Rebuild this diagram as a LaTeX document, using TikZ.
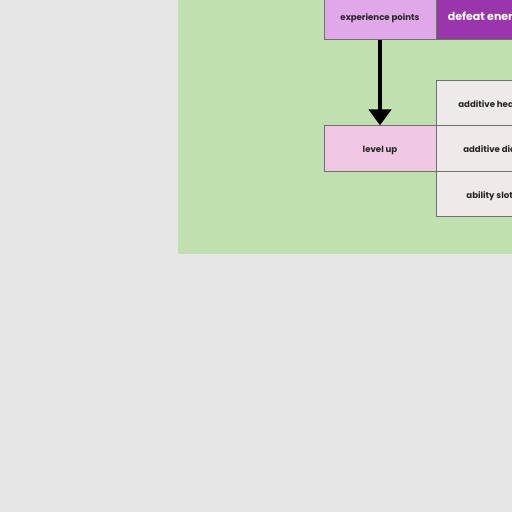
\documentclass[tikz,border=0pt]{standalone}
\usepackage{fontspec}
\setmainfont{Poppins}
\usetikzlibrary{arrows.meta}
\definecolor{pagebg}{HTML}{E6E6E6}
\definecolor{zone}{HTML}{C0E0B0}
\definecolor{xpfill}{HTML}{E0A8E8}
\definecolor{defeatfill}{HTML}{9B35AC}
\definecolor{lvlfill}{HTML}{F0C8E4}
\definecolor{perkfill}{HTML}{EEEAEA}
\definecolor{edge}{HTML}{707070}
\begin{document}
\begin{tikzpicture}[x=1pt,y=-1pt,
  cell/.style={draw=edge,line width=0.7pt,minimum width=112pt,minimum height=45.5pt,
    inner sep=0pt,text height=0.8em,text depth=0pt,
    font=\fontsize{8.6}{10}\selectfont\bfseries,text=black!85},
  bigcell/.style={cell,text height=0.85em,font=\fontsize{11}{13}\selectfont\bfseries,text=white},
  flow/.style={line width=4.5pt,-{Triangle[width=22pt,length=16pt]}}]
  \useasboundingbox (0,0) rectangle (512,512);
  \clip (0,0) rectangle (512,512);
  \fill[pagebg] (0,0) rectangle (512,512);
  \fill[zone] (178,-10) rectangle (530,254);
  % progression cells
  \node[cell,fill=xpfill] (xp) at (380,16.5) {experience points};
  \node[bigcell,fill=defeatfill] (defeat) at (492,16.5) {defeat enemies};
  \node[cell,fill=lvlfill] (lvl) at (380,148.5) {level up};
  \node[cell,fill=perkfill] (health) at (492,103.5) {additive health};
  \node[cell,fill=perkfill] (dice) at (492,148.5) {additive dice};
  \node[cell,fill=perkfill] (slots) at (492,194) {ability slots};
  \draw[flow] (xp.south) -- (lvl.north);
\end{tikzpicture}
\end{document}
